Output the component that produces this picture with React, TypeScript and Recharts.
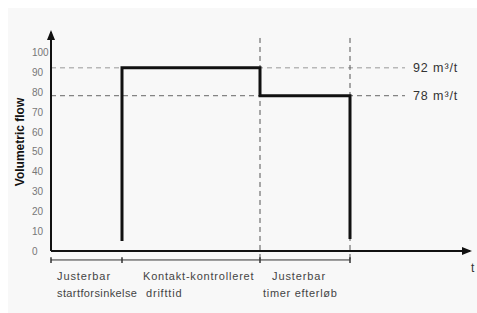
import React from 'react';
import { LineChart, Line, XAxis, YAxis, ReferenceLine, ReferenceDot, Label } from 'recharts';

// time axis in arbitrary units, flow in percent
const phaseTimes = [0, 71, 209, 299];
const phaseLabels = [
  ['Justerbar', 'startforsinkelse'],
  ['Kontakt-kontrolleret', 'drifttid'],
  ['Justerbar', 'timer efterløb'],
];
const stepTimes = [71, 71, 209, 209, 299, 299];
const stepFlows = [5, 92, 92, 78, 78, 6];
const levels = [92, 78];
const levelLabels = ['92 m³/t', '78 m³/t'];
const yTicks = [0, 10, 20, 30, 40, 50, 60, 70, 80, 90, 100];

const data = stepTimes.map((t, i) => ({ t, flow: stepFlows[i] }));

const FONT = 'Liberation Sans, Arial, sans-serif';
// per-line horizontal offsets and letter spacing for the phase captions
const labelDx = [[6, 6], [21, 24], [12, 3]];
const labelLs = [[0.9, 0.4], [0.8, 0.8], [0.9, 0.7]];

const PhaseTick = (props: any) => {
  const { x, y, payload } = props;
  const idx = phaseTimes.indexOf(payload.value);
  if (idx < 0 || idx >= phaseLabels.length) return null;
  return (
    <g>
      {phaseLabels[idx].map((line, j) => (
        <text key={j} x={x + labelDx[idx][j]} y={y + 21 + j * 17} fontSize={11} letterSpacing={labelLs[idx][j]} fill="#444" fontFamily={FONT} textAnchor="start">
          {line}
        </text>
      ))}
    </g>
  );
};

const YTick = (props: any) => {
  const { y, payload } = props;
  return (
    <text x={32} y={y + 4} fontSize={10} fill="#777" fontFamily={FONT} textAnchor="start">
      {payload.value}
    </text>
  );
};

const App: React.FC = () => {
  return (
    <div style={{ position: 'absolute', left: 0, top: 0, width: 477, height: 313, background: '#fff' }}>
      <div style={{ position: 'absolute', left: 8, top: 8, right: 0, bottom: 0, background: '#f8f8f8' }} />
      <div style={{ position: 'absolute', left: 0, top: 0 }}>
        <LineChart width={477} height={313} data={data} margin={{ top: 32, right: 7, left: 0, bottom: 0 }}>
          <XAxis
            dataKey="t"
            type="number"
            domain={[0, 419]}
            ticks={phaseTimes.slice(0, 3)}
            tick={<PhaseTick />}
            tickLine={false}
            axisLine={{ stroke: '#111', strokeWidth: 2 }}
            height={62}
            interval={0}
          />
          <YAxis
            type="number"
            domain={[0, 110]}
            ticks={yTicks}
            tick={<YTick />}
            tickLine={false}
            axisLine={{ stroke: '#111', strokeWidth: 2 }}
            width={51}
            interval={0}
          >
            <Label
              content={() => (
                <text x={20} y={142} transform="rotate(-90 20 142)" textAnchor="middle" dominantBaseline="central" fontSize={12} fontWeight="bold" fill="#111" fontFamily={FONT}>
                  Volumetric flow
                </text>
              )}
            />
          </YAxis>

          {levels.map((lv, i) => (
            <ReferenceLine
              key={lv}
              segment={[{ x: 0, y: lv }, { x: 354, y: lv }]}
              stroke={i === 0 ? '#999' : '#666'}
              strokeDasharray="5 4"
              ifOverflow="visible"
            />
          ))}
          {levels.map((lv, i) => (
            <ReferenceDot
              key={'l' + lv}
              x={362}
              y={lv}
              ifOverflow="visible"
              shape={(p: any) => (
                <text x={p.cx} y={p.cy + 4} fontSize={12.5} letterSpacing={0.9} fill="#333" fontFamily={FONT}>
                  {levelLabels[i]}
                </text>
              )}
            />
          ))}

          {phaseTimes.slice(2).map((t) => (
            <ReferenceLine
              key={'v' + t}
              segment={[{ x: t, y: 107 }, { x: t, y: -5 }]}
              stroke="#555"
              strokeDasharray="5 4"
              ifOverflow="visible"
            />
          ))}

          <ReferenceLine segment={[{ x: 0, y: -4.5 }, { x: 299, y: -4.5 }]} stroke="#333" ifOverflow="visible" />
          {phaseTimes.map((t) => (
            <ReferenceLine key={'k' + t} segment={[{ x: t, y: -3.2 }, { x: t, y: -6 }]} stroke="#333" strokeWidth={1.5} ifOverflow="visible" />
          ))}

          <Line
            type="linear"
            dataKey="flow"
            stroke="#111"
            strokeWidth={3}
            dot={false}
            isAnimationActive={false}
            strokeLinejoin="miter"
          />

          <ReferenceDot
            x={0}
            y={110}
            ifOverflow="visible"
            shape={(p: any) => <path d={`M${p.cx},${p.cy - 2} L${p.cx - 4},${p.cy + 8} L${p.cx + 4},${p.cy + 8} Z`} fill="#111" />}
          />
          <ReferenceDot
            x={419}
            y={0}
            ifOverflow="visible"
            shape={(p: any) => (
              <g>
                <path d={`M${p.cx + 2},${p.cy} L${p.cx - 8},${p.cy - 4} L${p.cx - 8},${p.cy + 4} Z`} fill="#111" />
                <text x={p.cx + 1} y={p.cy + 21} fontSize={12} fill="#333" fontFamily={FONT}>t</text>
              </g>
            )}
          />
        </LineChart>
      </div>
    </div>
  );
};

export default App;
